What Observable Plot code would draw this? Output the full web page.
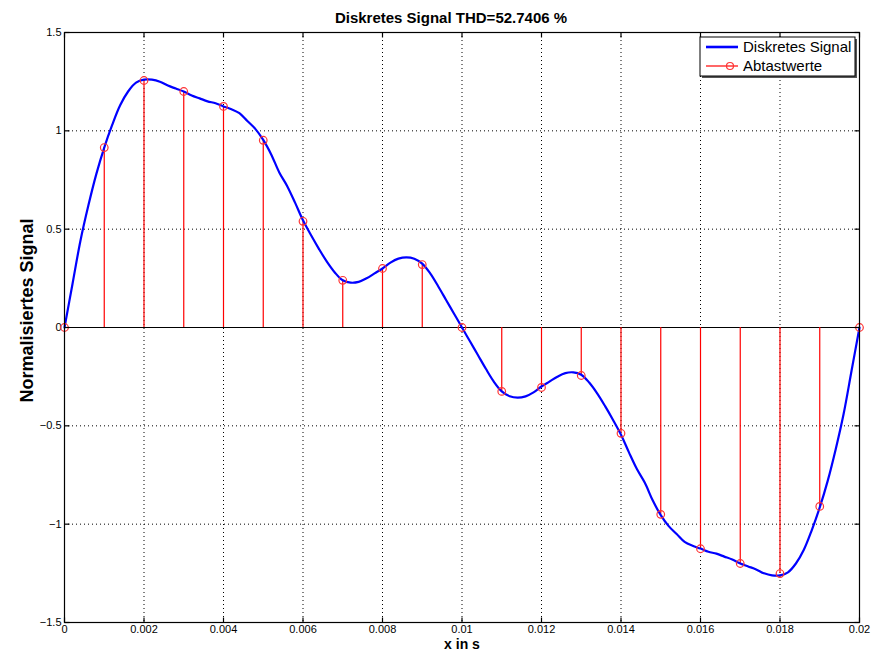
<!DOCTYPE html>
<html>
<head>
<meta charset="utf-8">
<script src="https://cdn.jsdelivr.net/npm/d3@7"></script>
<script src="https://cdn.jsdelivr.net/npm/@observablehq/plot@0.6"></script>
<style>
  body { margin: 0; background: #fff; }
  #chart { width: 872px; height: 656px; }
</style>
</head>
<body>
<div id="chart"></div>
<script>
// ---- data ----
const titleText = "Diskretes Signal THD=52.7406 %";
const xLabel = "x in s";
const yLabel = "Normalisiertes Signal";
const legendLabels = ["Diskretes Signal", "Abtastwerte"];

const xTicks = [0, 0.002, 0.004, 0.006, 0.008, 0.01, 0.012, 0.014, 0.016, 0.018, 0.02];
const xTickLabels = ["0", "0.002", "0.004", "0.006", "0.008", "0.01", "0.012", "0.014", "0.016", "0.018", "0.02"];
const yTicks = [-1.5, -1, -0.5, 0, 0.5, 1, 1.5];
const yTickLabels = ["\u22121.5", "\u22121", "\u22120.5", "0", "0.5", "1", "1.5"];

// sampled values (Abtastwerte)
const sampleT = [0, 0.001, 0.002, 0.003, 0.004, 0.005, 0.006, 0.007, 0.008, 0.009, 0.01,
                 0.011, 0.012, 0.013, 0.014, 0.015, 0.016, 0.017, 0.018, 0.019, 0.02];
const sampleY = [0, 0.915, 1.256, 1.20, 1.124, 0.952, 0.54, 0.24, 0.30, 0.32, 0,
                 -0.325, -0.305, -0.244, -0.538, -0.95, -1.125, -1.20, -1.251, -0.91, 0];

// continuous signal (Diskretes Signal)
const curveT = [0, 0.0002, 0.0004, 0.0006, 0.0008, 0.001, 0.0012, 0.0014, 0.0016, 0.0018,
  0.002, 0.0022, 0.0024, 0.0026, 0.0028, 0.003, 0.0032, 0.0034, 0.0036, 0.0038,
  0.004, 0.0042, 0.0044, 0.0046, 0.0048, 0.005, 0.0052, 0.0054, 0.0056, 0.0058,
  0.006, 0.0062, 0.0064, 0.0066, 0.0068, 0.007, 0.0072, 0.0074, 0.0076, 0.0078,
  0.008, 0.0082, 0.0084, 0.0086, 0.0088, 0.009, 0.0092, 0.0094, 0.0096, 0.0098,
  0.01, 0.0102, 0.0104, 0.0106, 0.0108, 0.011, 0.0112, 0.0114, 0.0116, 0.0118,
  0.012, 0.0122, 0.0124, 0.0126, 0.0128, 0.013, 0.0132, 0.0134, 0.0136, 0.0138,
  0.014, 0.0142, 0.0144, 0.0146, 0.0148, 0.015, 0.0152, 0.0154, 0.0156, 0.0158,
  0.016, 0.0162, 0.0164, 0.0166, 0.0168, 0.017, 0.0172, 0.0174, 0.0176, 0.0178,
  0.018, 0.0182, 0.0184, 0.0186, 0.0188, 0.019, 0.0192, 0.0194, 0.0196, 0.0198, 0.02];
const curveY = [0, 0.22, 0.44, 0.62, 0.78, 0.915, 1.03, 1.13, 1.20, 1.245,
  1.26, 1.26, 1.25, 1.23, 1.215, 1.20, 1.18, 1.165, 1.15, 1.14,
  1.124, 1.11, 1.09, 1.05, 1.01, 0.954, 0.88, 0.79, 0.72, 0.635,
  0.545, 0.47, 0.40, 0.335, 0.28, 0.24, 0.228, 0.232, 0.25, 0.275,
  0.30, 0.33, 0.35, 0.357, 0.35, 0.325, 0.275, 0.21, 0.14, 0.07,
  0, -0.07, -0.14, -0.21, -0.275, -0.325, -0.35, -0.357, -0.35, -0.33,
  -0.30, -0.275, -0.25, -0.232, -0.228, -0.24, -0.28, -0.335, -0.40, -0.47,
  -0.545, -0.635, -0.72, -0.79, -0.88, -0.954, -1.01, -1.05, -1.09, -1.11,
  -1.124, -1.14, -1.15, -1.165, -1.18, -1.20, -1.215, -1.23, -1.25, -1.26,
  -1.26, -1.245, -1.20, -1.13, -1.03, -0.915, -0.78, -0.62, -0.44, -0.22, 0];

// ---- build ----
const samples = sampleT.map((t, i) => ({t, v: sampleY[i]}));
const curve = curveT.map((t, i) => ({t, v: curveY[i]}));
const xMin = xTicks[0], xMax = xTicks[xTicks.length - 1];
const yMin = yTicks[0], yMax = yTicks[yTicks.length - 1];

const font = "'Liberation Sans', Arial, Helvetica, sans-serif";
const tickUp = {draw(c) { c.moveTo(0, 0); c.lineTo(0, -5); }};
const tickDown = {draw(c) { c.moveTo(0, 0); c.lineTo(0, 5); }};
const tickRight = {draw(c) { c.moveTo(0, 0); c.lineTo(5, 0); }};
const tickLeft = {draw(c) { c.moveTo(0, 0); c.lineTo(-5, 0); }};

const plot = Plot.plot({
  width: 872,
  height: 656,
  marginLeft: 64,
  marginRight: 13,
  marginTop: 32,
  marginBottom: 34,
  style: {fontFamily: font, fontSize: "11px", background: "white", color: "black", overflow: "visible"},
  x: {domain: [xMin, xMax], ticks: xTicks, tickSize: 0, tickPadding: 3,
      tickFormat: d => xTickLabels[xTicks.indexOf(d)], label: null},
  y: {domain: [yMin, yMax], ticks: yTicks, tickSize: 0, tickPadding: 3,
      tickFormat: d => yTickLabels[yTicks.indexOf(d)], label: null},
  marks: [
    Plot.ruleX(xTicks, {x: d => d, stroke: "black", strokeWidth: 1, strokeDasharray: "1,3"}),
    Plot.ruleY(yTicks, {y: d => d, stroke: "black", strokeWidth: 1, strokeDasharray: "1,3"}),
    Plot.ruleY([0], {x1: xMin, x2: xMax, y: d => d, stroke: "black", strokeWidth: 1.2}),
    Plot.ruleX(samples, {x: "t", y1: () => 0, y2: "v", stroke: "#ff0000", strokeWidth: 1.2}),
    Plot.line(curve, {x: "t", y: "v", stroke: "#0000ff", strokeWidth: 2.2, curve: "catmull-rom"}),
    Plot.dot(samples, {x: "t", y: "v", r: 3.8, stroke: "#ff3333", strokeWidth: 1.2, fill: "none"}),
    Plot.dot(xTicks, {x: d => d, y: () => yMin, symbol: tickUp, stroke: "black", fill: "none", strokeWidth: 1.2}),
    Plot.dot(xTicks, {x: d => d, y: () => yMax, symbol: tickDown, stroke: "black", fill: "none", strokeWidth: 1.2}),
    Plot.dot(yTicks, {y: d => d, x: () => xMin, symbol: tickRight, stroke: "black", fill: "none", strokeWidth: 1.2}),
    Plot.dot(yTicks, {y: d => d, x: () => xMax, symbol: tickLeft, stroke: "black", fill: "none", strokeWidth: 1.2}),
    Plot.frame({stroke: "black", strokeWidth: 1.2}),
    Plot.text([titleText], {frameAnchor: "top", dy: -20, dx: -11, text: d => d,
      fontWeight: "bold", fontSize: 15, fill: "black"}),
    Plot.text([xLabel], {frameAnchor: "bottom", dy: 26, text: d => d,
      fontWeight: "bold", fontSize: 14, fill: "black"}),
    Plot.text([yLabel], {frameAnchor: "left", dx: -37, dy: -17, rotate: -90, textAnchor: "middle",
      text: d => d, fontWeight: "bold", fontSize: 18, fill: "black"})
  ]
});

document.getElementById("chart").appendChild(plot);

// ---- legend (MATLAB style box, top-right inside axes) ----
const svg = d3.select(plot);
const lg = svg.append("g").attr("transform", "translate(700,37)")
  .style("font-family", font).attr("text-anchor", "start");
lg.append("rect").attr("x", 2).attr("y", 2).attr("width", 155).attr("height", 39).attr("fill", "#555");
lg.append("rect").attr("width", 155).attr("height", 39).attr("fill", "white").attr("stroke", "black").attr("stroke-width", 1);
lg.append("line").attr("x1", 6).attr("x2", 38).attr("y1", 10).attr("y2", 10)
  .attr("stroke", "#0000ff").attr("stroke-width", 2.6);
lg.append("text").attr("x", 43).attr("y", 10).attr("dy", "0.35em").attr("text-anchor", "start")
  .attr("font-size", 15).attr("fill", "black").text(legendLabels[0]);
lg.append("line").attr("x1", 6).attr("x2", 38).attr("y1", 29).attr("y2", 29)
  .attr("stroke", "#ff0000").attr("stroke-width", 1.2);
lg.append("circle").attr("cx", 30).attr("cy", 29).attr("r", 3.5)
  .attr("fill", "none").attr("stroke", "#ff3333").attr("stroke-width", 1.2);
lg.append("text").attr("x", 43).attr("y", 29).attr("dy", "0.35em").attr("text-anchor", "start")
  .attr("font-size", 15).attr("fill", "black").text(legendLabels[1]);
</script>
</body>
</html>
